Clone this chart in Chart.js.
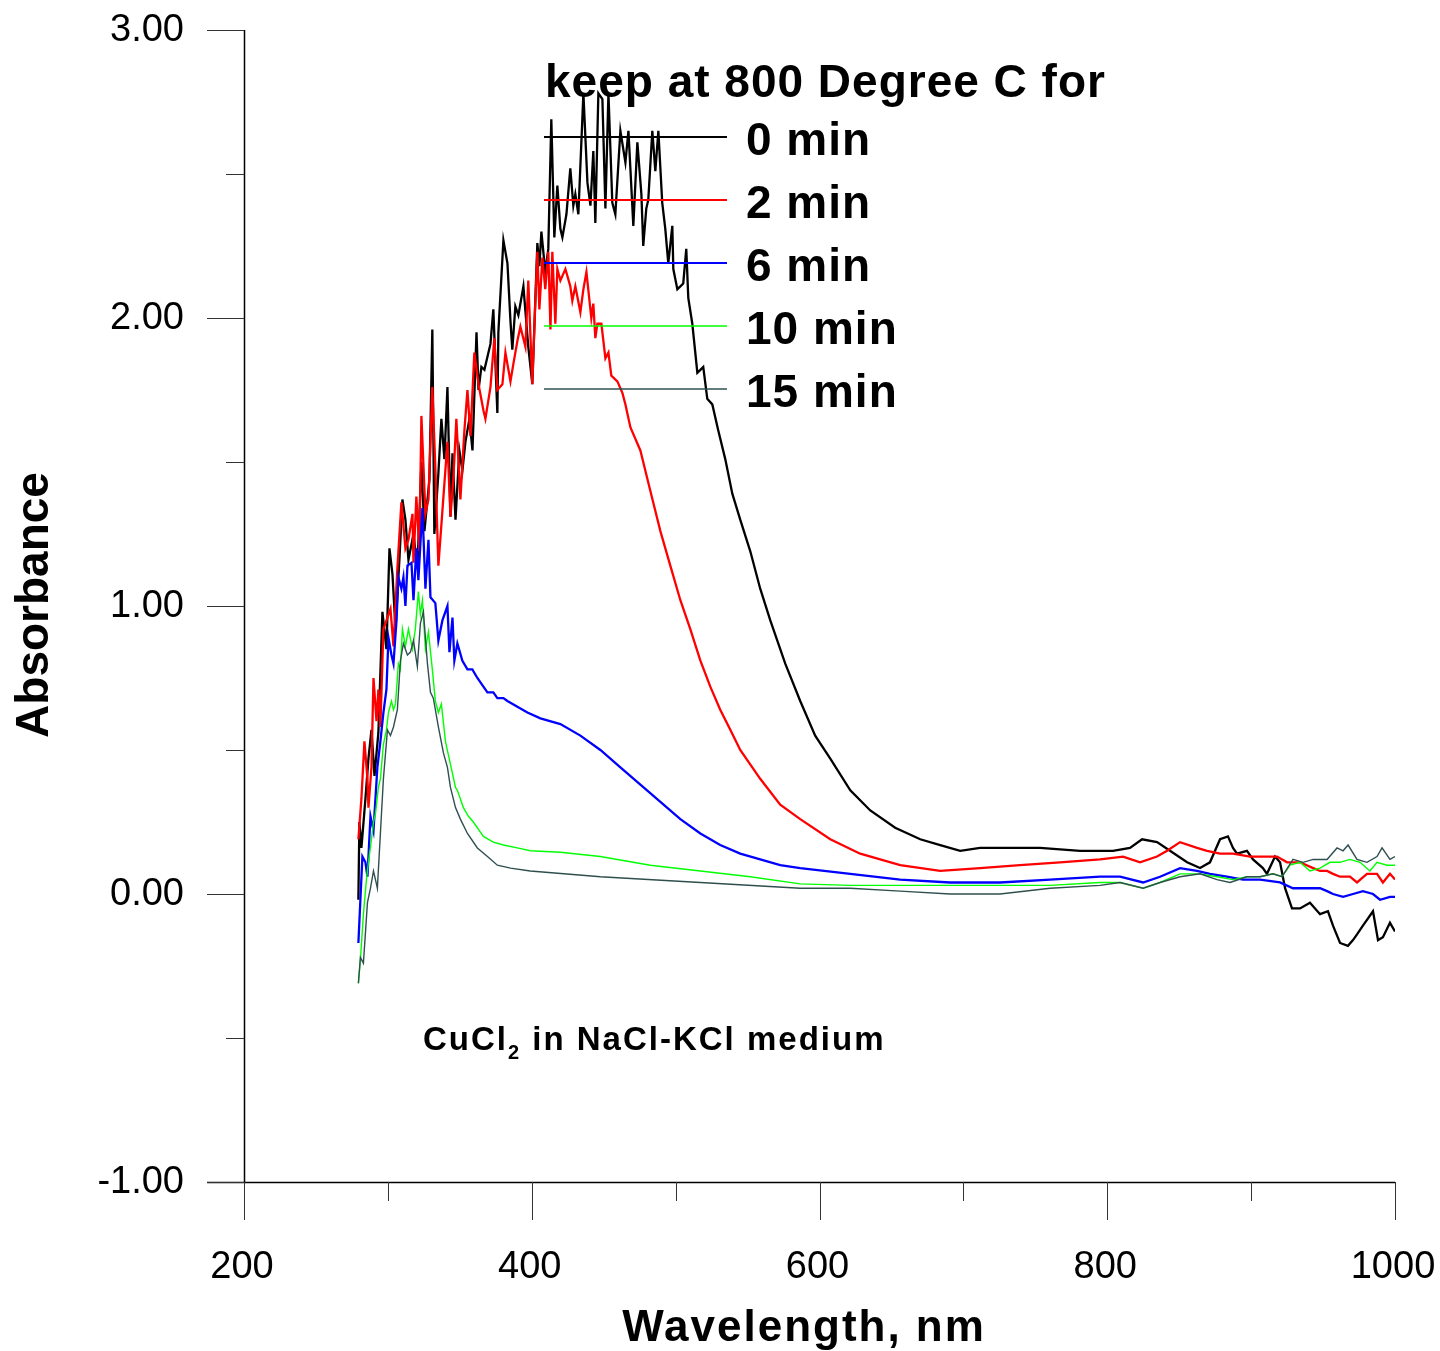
<!DOCTYPE html>
<html>
<head>
<meta charset="utf-8">
<title>CuCl2 absorbance</title>
<script src="https://cdn.jsdelivr.net/npm/chart.js@4.4.1/dist/chart.umd.min.js"></script>
<style>
  html, body { margin: 0; padding: 0; background: #fff; }
  #wrap { width: 1440px; height: 1351px; }
</style>
</head>
<body>
<div id="wrap"><canvas id="spec" width="1440" height="1351"></canvas></div>
<script>
// axis ticks
const xMajor = [200, 400, 600, 800, 1000];
const xMinor = [300, 500, 700, 900];
const yMajor = [3, 2, 1, 0, -1];
const yMinor = [2.5, 1.5, 0.5, -0.5];
const yLabels = ['3.00', '2.00', '1.00', '0.00', '-1.00'];

// 0 min
const wl0 = [
  279.5, 280.2, 281.6, 284.4, 286.5, 288.6, 290.7, 293.4, 296.2, 299.0,
  301.1, 303.2, 305.3, 308.0, 310.1, 312.2, 314.3, 317.8, 320.5, 323.3,
  325.4, 328.9, 330.9, 332.3, 335.1, 337.2, 339.3, 341.4, 343.5, 344.9,
  347.0, 349.7, 351.8, 353.9, 356.7, 358.8, 361.6, 363.0, 365.0, 367.1,
  369.9, 371.3, 373.3, 376.1, 376.8, 380.3, 383.1, 385.2, 386.5, 388.6,
  390.7, 394.2, 397.6, 400.4, 403.9, 405.3, 406.7, 409.4, 411.5, 413.6,
  415.7, 417.8, 419.9, 421.3, 424.1, 426.8, 428.9, 430.3, 432.4, 435.9,
  438.7, 440.8, 442.8, 444.2, 446.3, 449.1, 451.2, 453.3, 456.0, 458.1,
  461.6, 465.1, 467.2, 470.6, 473.4, 476.2, 477.5, 479.6, 481.0, 483.8,
  485.9, 488.0, 490.7, 492.8, 494.9, 497.7, 498.4, 501.2, 503.3, 505.3,
  507.4, 508.8, 511.6, 515.1, 517.2, 519.2, 522.0, 525.5, 529.6, 534.5,
  539.4, 544.9, 551.9, 558.8, 565.8, 576.2, 586.6, 597.0, 607.5, 621.4,
  635.3, 652.6, 670.0, 683.9, 697.8, 711.6, 725.5, 753.3, 781.1, 795.0,
  804.0, 815.8, 824.2, 834.6, 843.6, 855.5, 864.5, 871.4, 878.4, 883.9,
  887.4, 890.2, 897.1, 901.3, 908.2, 911.0, 916.6, 920.1, 923.6, 928.4,
  934.0, 940.9, 947.9, 953.4, 956.9, 961.8, 967.3, 970.8, 973.6, 977.7,
  984.7, 988.2, 991.6, 996.5, 1000.0
];
const abs0 = [
  -0.02, 0.25, 0.16, 0.33, 0.47, 0.57, 0.41, 0.56, 0.98, 0.85,
  1.20, 1.11, 0.92, 1.16, 1.37, 1.30, 1.16, 1.25, 1.13, 1.50,
  1.26, 1.44, 1.96, 1.25, 1.46, 1.65, 1.51, 1.76, 1.31, 1.53,
  1.30, 1.54, 1.47, 1.57, 1.65, 1.54, 1.95, 1.75, 1.83, 1.82,
  1.88, 1.91, 2.03, 1.67, 1.95, 2.27, 2.19, 1.99, 1.89, 2.04,
  2.01, 2.11, 1.90, 1.77, 2.26, 2.18, 2.30, 2.16, 2.24, 2.69,
  2.28, 2.46, 2.31, 2.28, 2.36, 2.52, 2.39, 2.43, 2.36, 2.78,
  2.47, 2.39, 2.58, 2.33, 2.78, 2.76, 2.38, 2.78, 2.40, 2.36,
  2.65, 2.54, 2.65, 2.32, 2.61, 2.43, 2.25, 2.38, 2.41, 2.65,
  2.51, 2.65, 2.40, 2.31, 2.19, 2.32, 2.17, 2.10, 2.11, 2.12,
  2.24, 2.07, 1.98, 1.81, 1.82, 1.83, 1.72, 1.70, 1.61, 1.51,
  1.39, 1.30, 1.19, 1.06, 0.95, 0.80, 0.67, 0.55, 0.47, 0.36,
  0.29, 0.23, 0.19, 0.17, 0.15, 0.16, 0.16, 0.16, 0.15, 0.15,
  0.15, 0.16, 0.19, 0.18, 0.15, 0.11, 0.09, 0.11, 0.19, 0.20,
  0.16, 0.14, 0.15, 0.12, 0.09, 0.07, 0.13, 0.11, 0.02, -0.05,
  -0.05, -0.03, -0.07, -0.06, -0.11, -0.17, -0.18, -0.16, -0.14, -0.11,
  -0.06, -0.16, -0.15, -0.10, -0.13
];

// 2 min
const wl2 = [
  279.5, 281.6, 283.7, 285.8, 286.5, 288.6, 290.0, 292.1, 293.4, 294.8,
  296.9, 299.7, 301.8, 303.9, 306.6, 309.4, 312.2, 314.3, 317.1, 317.8,
  319.8, 321.9, 323.3, 326.1, 328.2, 330.9, 333.0, 335.1, 337.9, 341.4,
  343.5, 345.5, 347.6, 350.4, 353.2, 355.3, 357.4, 360.1, 363.0, 366.4,
  367.8, 371.3, 374.0, 376.1, 379.6, 381.7, 385.2, 387.2, 390.0, 392.1,
  395.6, 397.6, 400.4, 402.5, 403.9, 405.3, 407.4, 409.4, 411.5, 413.0,
  414.3, 416.4, 417.8, 419.9, 423.4, 426.8, 428.2, 430.3, 433.8, 435.9,
  438.0, 441.4, 442.8, 444.2, 445.6, 448.4, 451.2, 453.3, 455.3, 459.5,
  463.0, 465.1, 468.6, 475.5, 482.4, 489.4, 496.3, 503.3, 510.2, 517.2,
  524.1, 531.0, 538.0, 544.9, 558.8, 572.7, 586.6, 607.5, 628.3, 656.1,
  683.9, 711.6, 739.4, 767.2, 795.0, 811.0, 822.8, 834.6, 841.6, 850.6,
  862.4, 869.4, 878.4, 887.4, 899.2, 906.2, 918.0, 925.0, 934.0, 943.1,
  947.9, 952.8, 956.9, 961.8, 968.7, 973.6, 980.5, 987.5, 991.6, 996.5,
  1000.0
];
const abs2 = [
  0.19, 0.33, 0.53, 0.40, 0.30, 0.44, 0.75, 0.60, 0.71, 0.58,
  0.92, 0.96, 0.99, 0.86, 1.13, 1.36, 1.20, 1.23, 1.32, 1.15,
  1.38, 1.19, 1.66, 1.32, 1.37, 1.76, 1.48, 1.14, 1.33, 1.57,
  1.31, 1.44, 1.65, 1.37, 1.61, 1.75, 1.59, 1.88, 1.77, 1.68,
  1.65, 1.76, 1.93, 1.75, 1.77, 1.88, 1.78, 1.84, 1.92, 1.97,
  1.90, 2.13, 1.77, 2.06, 2.23, 2.03, 2.21, 2.10, 2.23, 1.96,
  2.23, 1.98, 2.17, 2.13, 2.17, 2.11, 2.06, 2.11, 2.02, 2.10,
  2.16, 2.00, 2.05, 1.93, 1.98, 1.98, 1.86, 1.88, 1.80, 1.78,
  1.74, 1.70, 1.62, 1.54, 1.40, 1.26, 1.14, 1.02, 0.92, 0.81,
  0.72, 0.64, 0.57, 0.50, 0.40, 0.31, 0.26, 0.19, 0.14, 0.10,
  0.08, 0.09, 0.10, 0.11, 0.12, 0.13, 0.11, 0.13, 0.15, 0.18,
  0.16, 0.15, 0.14, 0.14, 0.13, 0.13, 0.13, 0.11, 0.11, 0.09,
  0.08, 0.08, 0.07, 0.06, 0.06, 0.04, 0.07, 0.07, 0.04, 0.07,
  0.05
];

// 6 min
const wl6 = [
  279.5, 280.9, 282.3, 284.4, 285.8, 287.9, 290.0, 292.7, 294.8, 296.9,
  299.0, 300.4, 302.5, 303.9, 306.0, 307.3, 309.4, 310.8, 312.2, 313.6,
  316.4, 317.8, 319.8, 321.2, 324.0, 326.1, 328.2, 329.6, 333.0, 335.1,
  337.9, 341.4, 342.8, 344.9, 346.2, 348.3, 351.8, 355.3, 358.7, 362.2,
  366.4, 369.2, 373.3, 376.1, 380.3, 383.1, 390.0, 397.0, 406.0, 419.9,
  433.8, 447.7, 461.6, 475.5, 489.4, 503.3, 517.2, 531.0, 544.9, 558.8,
  572.7, 586.6, 621.4, 656.1, 690.8, 725.5, 760.3, 795.0, 808.9, 824.9,
  836.7, 850.6, 862.4, 871.4, 883.2, 894.4, 906.2, 920.1, 929.1, 938.8,
  947.9, 952.8, 956.9, 963.9, 970.8, 977.7, 984.7, 989.6, 996.5, 1000.0
];
const abs6 = [
  -0.17, -0.02, 0.13, 0.11, 0.06, 0.27, 0.22, 0.44, 0.53, 0.63,
  0.71, 0.89, 0.83, 0.80, 0.95, 1.10, 1.06, 1.10, 1.00, 1.14,
  1.15, 1.02, 1.20, 1.09, 1.34, 1.06, 1.23, 1.03, 1.01, 0.88,
  0.95, 1.00, 0.84, 0.96, 0.81, 0.87, 0.81, 0.78, 0.78, 0.75,
  0.72, 0.70, 0.70, 0.68, 0.68, 0.67, 0.65, 0.63, 0.61, 0.59,
  0.55, 0.50, 0.44, 0.38, 0.32, 0.26, 0.21, 0.17, 0.14, 0.12,
  0.10, 0.09, 0.07, 0.05, 0.04, 0.04, 0.05, 0.06, 0.06, 0.04,
  0.06, 0.09, 0.08, 0.07, 0.06, 0.05, 0.05, 0.04, 0.02, 0.02,
  0.02, 0.01, 0.00, -0.01, 0.00, 0.01, 0.00, -0.02, -0.01, -0.01
];

// 10 min
const wl10 = [
  279.5, 280.9, 283.0, 285.1, 286.5, 288.6, 290.0, 291.4, 293.4, 294.8,
  296.9, 299.0, 300.4, 302.5, 303.9, 305.3, 307.3, 308.7, 310.1, 312.2,
  314.3, 317.1, 319.1, 321.2, 322.6, 324.0, 326.1, 328.2, 330.9, 333.0,
  335.1, 337.2, 340.0, 343.5, 347.0, 348.3, 352.5, 356.0, 359.4, 366.4,
  373.3, 380.3, 390.0, 399.0, 419.9, 447.7, 482.4, 517.2, 551.9, 586.6,
  621.4, 656.1, 690.8, 725.5, 760.3, 795.0, 808.9, 824.9, 836.7, 850.6,
  864.5, 876.3, 887.4, 897.1, 906.2, 915.2, 921.5, 927.0, 934.0, 940.9,
  947.9, 954.8, 961.8, 968.7, 975.7, 982.6, 987.5, 994.4, 1000.0
];
const abs10 = [
  -0.31, -0.23, -0.07, 0.05, 0.11, 0.19, 0.25, 0.28, 0.37, 0.40,
  0.52, 0.57, 0.63, 0.67, 0.64, 0.66, 0.80, 0.78, 0.92, 0.86,
  0.92, 0.85, 0.92, 1.05, 0.97, 1.02, 0.85, 0.91, 0.78, 0.67,
  0.63, 0.66, 0.53, 0.45, 0.37, 0.36, 0.30, 0.27, 0.25, 0.20,
  0.18, 0.17, 0.16, 0.15, 0.145, 0.13, 0.10, 0.08, 0.06, 0.035,
  0.03, 0.03, 0.03, 0.03, 0.03, 0.04, 0.04, 0.02, 0.04, 0.07,
  0.07, 0.06, 0.05, 0.06, 0.06, 0.07, 0.06, 0.10, 0.11, 0.08,
  0.09, 0.11, 0.11, 0.12, 0.11, 0.08, 0.11, 0.10, 0.10
];

// 15 min
const wl15 = [
  279.5, 280.9, 283.0, 285.8, 287.9, 290.0, 292.7, 294.8, 296.9, 299.7,
  301.8, 303.9, 306.6, 308.7, 310.8, 313.6, 315.7, 317.8, 320.5, 322.6,
  324.7, 327.5, 329.6, 331.6, 335.1, 338.6, 341.4, 343.5, 347.0, 350.4,
  355.3, 362.2, 369.2, 376.1, 385.2, 399.0, 447.7, 517.2, 586.6, 621.4,
  656.1, 690.8, 725.5, 760.3, 795.0, 808.9, 824.9, 836.7, 850.6, 864.5,
  876.3, 885.3, 897.1, 906.2, 915.2, 921.5, 929.1, 936.1, 943.1, 952.8,
  959.7, 963.9, 967.4, 973.6, 980.5, 987.5, 991.0, 996.5, 1000.0
];
const abs15 = [
  -0.31, -0.22, -0.24, -0.03, 0.02, 0.08, 0.02, 0.21, 0.40, 0.57,
  0.55, 0.58, 0.64, 0.81, 0.87, 0.83, 0.84, 0.88, 0.79, 0.94,
  0.98, 0.80, 0.70, 0.68, 0.58, 0.49, 0.44, 0.37, 0.30, 0.26,
  0.21, 0.16, 0.13, 0.10, 0.09, 0.08, 0.06, 0.04, 0.02, 0.02,
  0.01, 0.00, 0.00, 0.02, 0.03, 0.04, 0.02, 0.04, 0.06, 0.07,
  0.05, 0.04, 0.06, 0.06, 0.07, 0.06, 0.12, 0.11, 0.12, 0.12,
  0.16, 0.15, 0.17, 0.12, 0.11, 0.13, 0.16, 0.12, 0.13
];

const seriesNames = ['0 min', '2 min', '6 min', '10 min', '15 min'];
const seriesColors = ['#000000', '#ff0000', '#0000ff', '#00ff00', '#2f4f4f'];
const seriesWidths = [2.3, 2.3, 2.3, 1.4, 1.4];

const FONT = '"Liberation Sans", Arial, Helvetica, sans-serif';

function toPoints(wl, ab) {
  return wl.map((w, i) => ({ x: w, y: ab[i] }));
}

const allData = [
  toPoints(wl0, abs0), toPoints(wl2, abs2), toPoints(wl6, abs6),
  toPoints(wl10, abs10), toPoints(wl15, abs15)
];

// axes, ticks, titles, legend and note drawn on top of the chart area
const framePlugin = {
  id: 'frame',
  afterDraw(chart) {
    const { ctx, chartArea: a, scales: { x, y } } = chart;
    ctx.save();
    ctx.strokeStyle = '#000';
    ctx.fillStyle = '#000';

    // axis lines
    ctx.lineWidth = 1.5;
    ctx.beginPath();
    ctx.moveTo(a.left + 0.5, a.top);
    ctx.lineTo(a.left + 0.5, a.bottom);
    ctx.moveTo(a.left - 37, a.bottom + 0.5);
    ctx.lineTo(a.right, a.bottom + 0.5);
    ctx.stroke();

    // ticks
    ctx.lineWidth = 1;
    ctx.strokeStyle = '#333';
    ctx.beginPath();
    yMajor.forEach(v => {
      const p = Math.round(y.getPixelForValue(v)) + 0.5;
      ctx.moveTo(a.left - 37, p); ctx.lineTo(a.left, p);
    });
    yMinor.forEach(v => {
      const p = Math.round(y.getPixelForValue(v)) + 0.5;
      ctx.moveTo(a.left - 18, p); ctx.lineTo(a.left, p);
    });
    xMajor.forEach(v => {
      const p = Math.round(x.getPixelForValue(v)) + 0.5;
      ctx.moveTo(p, a.bottom); ctx.lineTo(p, a.bottom + 38);
    });
    xMinor.forEach(v => {
      const p = Math.round(x.getPixelForValue(v)) + 0.5;
      ctx.moveTo(p, a.bottom); ctx.lineTo(p, a.bottom + 19);
    });
    ctx.stroke();

    // tick labels
    ctx.font = '38px ' + FONT;
    ctx.textAlign = 'right';
    ctx.textBaseline = 'middle';
    yMajor.forEach((v, i) => {
      ctx.fillText(yLabels[i], a.left - 60, y.getPixelForValue(v) + 1);
    });
    ctx.textAlign = 'center';
    ctx.textBaseline = 'alphabetic';
    xMajor.forEach(v => {
      ctx.fillText(String(v), x.getPixelForValue(v) - 2, a.bottom + 96);
    });

    // axis titles
    ctx.font = 'bold 44px ' + FONT;
    ctx.letterSpacing = '2px';
    ctx.fillText('Wavelength, nm', 804, 1341);
    ctx.letterSpacing = '0px';
    ctx.save();
    ctx.translate(48, 605);
    ctx.rotate(-Math.PI / 2);
    ctx.font = 'bold 46px ' + FONT;
    ctx.textAlign = 'center';
    ctx.fillText('Absorbance', 0, 0);
    ctx.restore();

    // legend
    ctx.textAlign = 'left';
    ctx.font = 'bold 46px ' + FONT;
    ctx.letterSpacing = '1px';
    ctx.fillText('keep at 800 Degree C for', 545, 97);
    seriesNames.forEach((name, i) => {
      const ly = 137 + i * 63;
      ctx.strokeStyle = seriesColors[i];
      ctx.lineWidth = Math.min(seriesWidths[i], 2);
      ctx.beginPath();
      ctx.moveTo(544, ly); ctx.lineTo(727, ly);
      ctx.stroke();
      ctx.fillText(name, 746, ly + 18);
    });

    // note
    ctx.font = 'bold 33px ' + FONT;
    ctx.letterSpacing = '2px';
    ctx.fillText('CuCl', 423, 1050);
    let w = ctx.measureText('CuCl').width;
    ctx.font = 'bold 20px ' + FONT;
    ctx.fillText('2', 423 + w, 1059);
    w += ctx.measureText('2').width;
    ctx.font = 'bold 33px ' + FONT;
    ctx.fillText(' in NaCl-KCl medium', 423 + w, 1050);
    ctx.letterSpacing = '0px';
    ctx.restore();
  }
};

new Chart(document.getElementById('spec'), {
  type: 'line',
  data: {
    datasets: allData.map((pts, i) => ({
      label: seriesNames[i],
      data: pts,
      borderColor: seriesColors[i],
      borderWidth: seriesWidths[i],
      pointRadius: 0,
      tension: 0,
      fill: false,
      order: 5 - i
    }))
  },
  options: {
    responsive: false,
    animation: false,
    devicePixelRatio: 1,
    layout: { padding: { left: 244, right: 45, top: 30, bottom: 169 } },
    plugins: { legend: { display: false }, tooltip: { enabled: false } },
    scales: {
      x: { type: 'linear', min: 200, max: 1000, display: false },
      y: { type: 'linear', min: -1, max: 3, display: false }
    }
  },
  plugins: [framePlugin]
});
</script>
</body>
</html>
